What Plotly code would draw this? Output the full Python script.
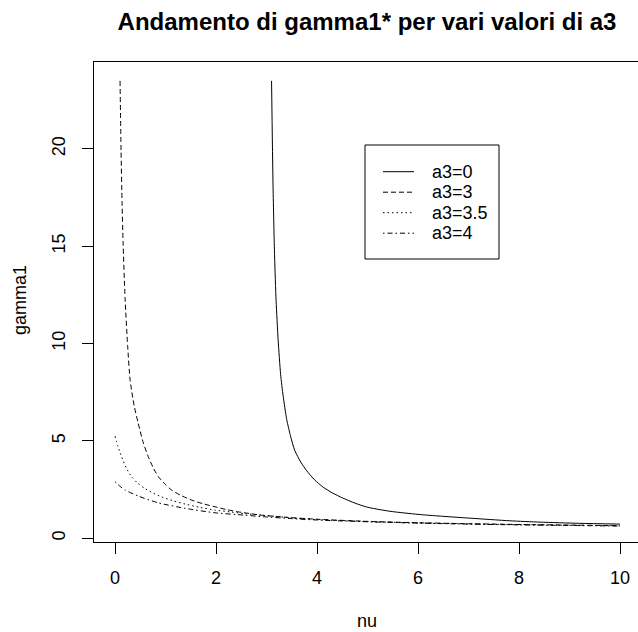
import plotly.graph_objects as go

# ---- data ----
nu_a0 = [3.1, 3.13, 3.16, 3.19, 3.23, 3.28, 3.33, 3.4, 3.48, 3.56, 3.68, 3.8, 3.95, 4.12, 4.3, 4.51, 4.75, 4.98, 5.25, 5.5, 6.0, 6.44, 7.0, 7.82, 8.42, 9.2, 10.0]
g_a0 = [23.5, 18.0, 14.5, 12.2, 10.2, 8.4, 7.3, 6.1, 5.2, 4.5, 3.9, 3.45, 3.0, 2.62, 2.33, 2.06, 1.8, 1.6, 1.46, 1.36, 1.22, 1.13, 1.03, 0.89, 0.82, 0.76, 0.72]

nu_a3 = [0.1, 0.12, 0.14, 0.16, 0.2, 0.25, 0.3, 0.38, 0.46, 0.56, 0.66, 0.76, 0.86, 1.0, 1.12, 1.3, 1.52, 1.75, 1.98, 2.2, 2.44, 2.7, 2.9, 3.5, 4, 5, 6, 7, 8, 9, 10]
g_a3 = [23.5, 19.9, 17.2, 15.2, 12.3, 9.9, 8.1, 6.8, 5.9, 4.9, 4.18, 3.6, 3.15, 2.75, 2.47, 2.2, 1.95, 1.76, 1.61, 1.47, 1.35, 1.25, 1.18, 1.05, 0.97, 0.86, 0.79, 0.74, 0.70, 0.67, 0.64]

nu_a35 = [0, 0.06, 0.13, 0.22, 0.33, 0.45, 0.59, 0.75, 0.92, 1.15, 1.39, 1.68, 1.98, 2.27, 2.57, 2.93, 3.5, 4, 5, 6, 7, 8, 9, 10]
g_a35 = [5.24, 4.7, 4.18, 3.62, 3.15, 2.82, 2.55, 2.32, 2.12, 1.92, 1.75, 1.58, 1.44, 1.35, 1.26, 1.17, 1.04, 0.95, 0.85, 0.78, 0.73, 0.69, 0.66, 0.63]

nu_a4 = [0, 0.1, 0.2, 0.46, 0.86, 1.39, 1.98, 2.57, 2.93, 3.5, 4, 5, 6, 7, 8, 9, 10]
g_a4 = [2.9, 2.66, 2.47, 2.16, 1.81, 1.53, 1.30, 1.18, 1.1, 1.0, 0.93, 0.84, 0.77, 0.72, 0.68, 0.65, 0.62]

labels = ["a3=0", "a3=3", "a3=3.5", "a3=4"]
dashes = ["solid", "5px,3px", "1.5px,3px", "1.5px,3px,5px,3px"]
x_ticks = [0, 2, 4, 6, 8, 10]
y_ticks = [0, 5, 10, 15, 20]

series = [(nu_a0, g_a0), (nu_a3, g_a3), (nu_a35, g_a35), (nu_a4, g_a4)]

FONT = "Liberation Sans, Arial, sans-serif"
W, H = 638, 632
L, R, T, B = 94, 0, 62, 90
PW, PH = W - L - R, H - T - B

def px_x(p):
    return (p - L) / PW

def px_y(p):
    return (H - B - p) / PH

fig = go.Figure()
for (xs, ys), name, d in zip(series, labels, dashes):
    fig.add_trace(go.Scatter(x=xs, y=ys, mode="lines", name=name,
                             line=dict(color="black", width=1, dash=d,
                                       shape="spline", smoothing=0.6),
                             showlegend=False))

# manual legend box (R style)
shapes = [dict(type="rect", xref="paper", yref="paper",
               x0=px_x(365), x1=px_x(499), y0=px_y(259), y1=px_y(145),
               line=dict(color="black", width=1), fillcolor="white", layer="above")]
annotations = []
rows = [171.7, 192.2, 212.7, 233.2]
for ry, name, d in zip(rows, labels, dashes):
    shapes.append(dict(type="line", xref="paper", yref="paper",
                       x0=px_x(383), x1=px_x(414), y0=px_y(ry), y1=px_y(ry),
                       line=dict(color="black", width=1, dash=d), layer="above"))
    annotations.append(dict(text=name, xref="paper", yref="paper",
                            x=px_x(430), y=px_y(ry), xanchor="left", yanchor="middle",
                            showarrow=False, font=dict(family=FONT, size=18, color="black")))

# axis titles
annotations.append(dict(text="nu", xref="paper", yref="paper", x=px_x(367), y=px_y(621),
                        xanchor="center", yanchor="middle", showarrow=False,
                        font=dict(family=FONT, size=18, color="black")))
annotations.append(dict(text="gamma1", xref="paper", yref="paper", x=px_x(20), y=px_y(300),
                        xanchor="center", yanchor="middle", showarrow=False, textangle=-90,
                        font=dict(family=FONT, size=18, color="black")))

fig.update_layout(
    width=W, height=H,
    margin=dict(l=L, r=R, t=T, b=B, pad=0),
    paper_bgcolor="white", plot_bgcolor="white",
    font=dict(family=FONT, size=18, color="black"),
    title=dict(text="<b>Andamento di gamma1* per vari valori di a3</b>",
               x=367 / W, xref="container", xanchor="center",
               y=1 - 22 / H, yref="container", yanchor="middle",
               font=dict(family=FONT, size=24, color="black")),
    shapes=shapes, annotations=annotations,
    showlegend=False,
)
fig.update_xaxes(range=[-21 / 50.5, 10 + 18 / 50.5], tickvals=x_ticks,
                 showline=True, linecolor="black", linewidth=1, mirror=True,
                 ticks="outside", ticklen=11, tickcolor="black", tickwidth=1,
                 showgrid=False, zeroline=False, ticklabelstandoff=8,
                 tickfont=dict(family=FONT, size=18, color="black"))
fig.update_yaxes(range=[-0.2, 24.47], tickvals=y_ticks, tickangle=-90,
                 showline=True, linecolor="black", linewidth=1, mirror=False,
                 ticks="outside", ticklen=11, tickcolor="black", tickwidth=1,
                 showgrid=False, zeroline=False, ticklabelstandoff=10,
                 tickfont=dict(family=FONT, size=18, color="black"))

fig.write_html("out.html")
